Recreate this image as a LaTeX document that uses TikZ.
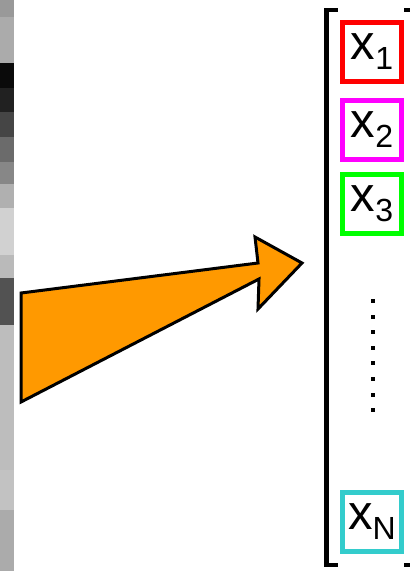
\documentclass[tikz,border=0pt]{standalone}
\usepackage{fontspec}
\setmainfont{Liberation Sans}
\definecolor{arrorange}{RGB}{255,153,0}
\definecolor{boxred}{RGB}{255,0,0}
\definecolor{boxmag}{RGB}{255,0,255}
\definecolor{boxgreen}{RGB}{0,255,0}
\definecolor{boxcyan}{RGB}{51,204,204}
\newcommand{\xsub}[1]{{\fontsize{49}{49}\selectfont x\raisebox{-10pt}{\fontsize{32}{32}\selectfont #1}}}
\begin{document}
\begin{tikzpicture}[x=1pt,y=-1pt,
  elbox/.style={draw=#1,line width=5pt,minimum width=59pt,minimum height=59pt,inner sep=0pt,fill=white},
  brk/.style={line width=4.5pt,line cap=rect},
  dotmark/.style={fill=black}]
\useasboundingbox (0,0) rectangle (410,571);
\fill[white] (0,0) rectangle (410,571);
% grayscale strip
\foreach \ya/\yb/\g in {0/17/60, 17/63/67, 63/88/4, 88/112/13, 112/137/27, 137/162/42, 162/184/53, 184/208/69, 208/255/82, 255/278/73, 278/325/32, 325/470/74, 470/510/76, 510/571/67}{
  \fill[fill=white!\g!black] (0,\ya) rectangle (14,\yb);
}
% arrow
\draw[fill=arrorange,line width=3pt,line join=miter]
  (21,293) -- (258,263) -- (255,237) -- (302,263) -- (258,309) -- (259,279) -- (21,402) -- cycle;
% bracket
\draw[brk] (336,10) -- (326.5,10) -- (326.5,565) -- (336,565);
\draw[brk] (406,10) -- (410,10);
\draw[brk] (406,565) -- (410,565);
% boxes
\node[elbox=boxred]   (x1) at (372,51.5)  {\xsub{1}};
\node[elbox=boxmag]   (x2) at (372,129.5) {\xsub{2}};
\node[elbox=boxgreen] (x3) at (372,204)   {\xsub{3}};
\node[elbox=boxcyan]  (xN) at (372,522)   {\xsub{N}};
% dots
\foreach \y in {301,316.5,332,347.5,363,379,395,409.5}{
  \fill[dotmark] (370.7,\y-2) rectangle (374.7,\y+2);
}
\end{tikzpicture}
\end{document}
